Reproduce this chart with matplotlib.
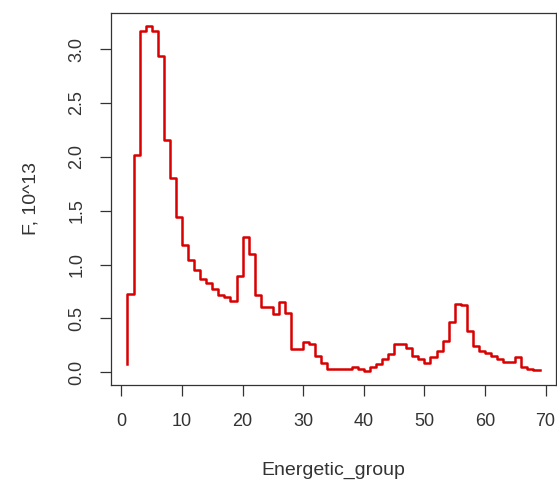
import matplotlib
matplotlib.use("Agg")
import matplotlib.pyplot as plt

# energy groups 1..69 and flux (x 10^13), R type="S" step plot
groups = list(range(1, 70))
flux = [
    0.08, 0.73, 2.02, 3.17, 3.21, 3.17, 2.94, 2.16, 1.80, 1.44,
    1.18, 1.04, 0.95, 0.87, 0.83, 0.77, 0.72, 0.70, 0.66, 0.89,
    1.26, 1.10, 0.72, 0.61, 0.61, 0.54, 0.65, 0.55, 0.22, 0.22,
    0.28, 0.26, 0.15, 0.09, 0.035, 0.035, 0.035, 0.035, 0.05, 0.03,
    0.01, 0.045, 0.08, 0.12, 0.17, 0.26, 0.26, 0.23, 0.155, 0.12,
    0.09, 0.14, 0.20, 0.29, 0.47, 0.63, 0.62, 0.38, 0.24, 0.20,
    0.18, 0.155, 0.12, 0.095, 0.095, 0.14, 0.05, 0.03, 0.02,
]
x_ticks = [0, 10, 20, 30, 40, 50, 60, 70]
y_ticks = [0.0, 0.5, 1.0, 1.5, 2.0, 2.5, 3.0]

plt.rcParams['font.family'] = ['Liberation Sans', 'DejaVu Sans']

fig = plt.figure(figsize=(5.57, 4.84), dpi=100)
ax = fig.add_axes([111 / 557, 1 - 385 / 484, 445 / 557, (385 - 12.7) / 484])

ax.plot(groups, flux, drawstyle='steps-pre', color='#d80000', linewidth=1.8)

# R-like 4% padding around data range
xr = max(groups) - min(groups)
yr = max(flux) - min(flux)
ax.set_xlim(min(groups) - 0.04 * xr, max(groups) + 0.04 * xr)
ax.set_ylim(min(flux) - 0.04 * yr, max(flux) + 0.04 * yr)

ax.set_xticks(x_ticks)
ax.set_yticks(y_ticks)
ax.set_xticklabels([str(v) for v in x_ticks])
ax.set_yticklabels([f"{v:.1f}" for v in y_ticks], rotation=90, va='center')

ax.tick_params(axis='both', direction='out', length=8, width=0.9,
               colors='#333333', labelsize=13, labelcolor='#333333')
ax.tick_params(axis='x', pad=12)
ax.tick_params(axis='y', pad=10.5)

for sp in ax.spines.values():
    sp.set_color('#333333')
    sp.set_linewidth(0.9)

ax.set_xlabel("Energetic_group", fontsize=14, color='#333333', labelpad=23)
ax.set_ylabel("F, 10^13", fontsize=14, color='#333333', labelpad=21)

fig.savefig("out.png", dpi=100)
